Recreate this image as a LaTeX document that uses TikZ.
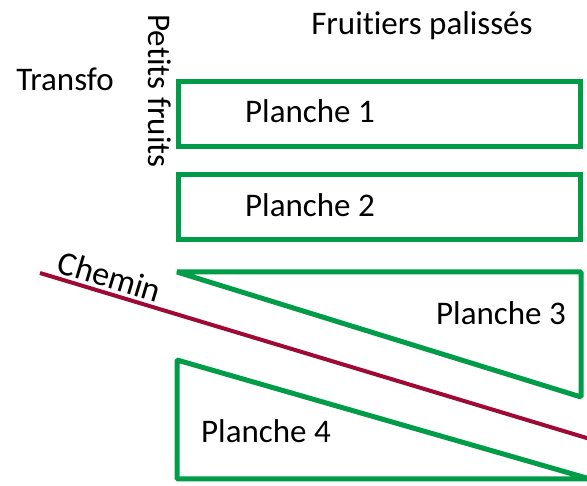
\documentclass[tikz,border=0pt]{standalone}
\usepackage{fontspec}
\setmainfont[Ligatures=NoCommon]{Carlito}
\definecolor{planchegreen}{RGB}{0,156,72}
\definecolor{cheminred}{RGB}{158,10,52}
\tikzset{
	planche/.style={draw=planchegreen,line width=5pt},
	label/.style={inner sep=0pt,anchor=base,font=\fontsize{33}{40}\selectfont}
}

\begin{document}
\begin{tikzpicture}[x=1pt,y=-1pt]
	\useasboundingbox (0,0) rectangle (587,486);
	% planches 1 et 2
	\foreach \y/\n in {82/1,175/2}{
		\draw [planche](178,\y) rectangle(580,\y+65);
	}
	\draw [planche,line join=bevel](177,272)--(581,272)--(581,397)--cycle;
	\draw [planche,line join=bevel](177,360)--(177,479)--(590,479)--cycle;
	% chemin
	\coordinate (chemin a) at (40,273);
	\coordinate (chemin b) at (590,439);
	\draw [cheminred,line width=4pt](chemin a)--(chemin b)
		node[pos=0.118,sloped,anchor=south,inner sep=3pt,text=black,font=\fontsize{34}{40}\selectfont](chemin){Chemin};
	\node (fruitiers) at(422,35)[label]{Fruitiers palissés};
	\node (transfo) at(65,91)[label]{Transfo};
	\node (petits) at(148,91)[label,rotate=-90]{Petits fruits};
	\node (p1) at(310,123)[label]{Planche 1};
	\node (p2) at(310,217)[label]{Planche 2};
	\node (p3) at(501,325)[label]{Planche 3};
	\node (p4) at(266,443)[label]{Planche 4};
\end{tikzpicture}
\end{document}
